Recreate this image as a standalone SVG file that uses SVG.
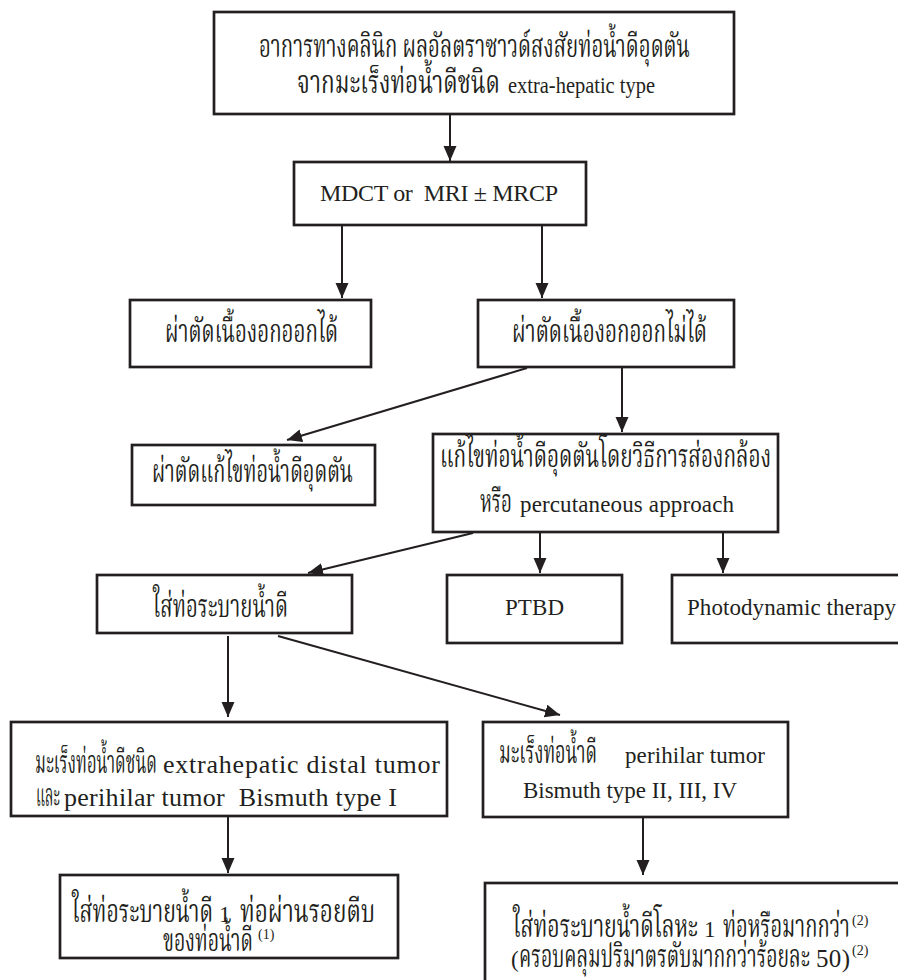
<svg xmlns="http://www.w3.org/2000/svg" width="898" height="980" viewBox="0 0 898 980">
<style>
.box{fill:#fff;stroke:#231f20;stroke-width:2.7}
.t{font-family:'Liberation Serif','Times New Roman','Noto Serif Thai','Noto Sans Thai','Loma',serif;font-size:23px;fill:#231f20}
.th{font-size:32px}
.sup{font-size:14px}
.c{stroke:#231f20;stroke-width:2;fill:none;marker-end:url(#ah)}
</style>
<defs>
<marker id="ah" markerUnits="userSpaceOnUse" markerWidth="16" markerHeight="14" refX="15" refY="6.5" orient="auto">
<path d="M0,0 L15,6.5 L0,13 Z" fill="#231f20"/>
</marker>
</defs>
<rect width="898" height="980" fill="#fff"/>
<g id="connectors">
<line class="c" x1="450" y1="114" x2="450" y2="161"/>
<line class="c" x1="342" y1="225" x2="342" y2="298"/>
<line class="c" x1="542" y1="225" x2="542" y2="298"/>
<line class="c" x1="527" y1="368" x2="287" y2="440"/>
<line class="c" x1="622" y1="367" x2="622" y2="432"/>
<line class="c" x1="473" y1="533" x2="308" y2="573"/>
<line class="c" x1="540" y1="532" x2="540" y2="573"/>
<line class="c" x1="723" y1="532" x2="723" y2="573"/>
<line class="c" x1="228" y1="636" x2="228" y2="717"/>
<line class="c" x1="278" y1="636" x2="560" y2="715"/>
<line class="c" x1="228" y1="816" x2="228" y2="873"/>
<line class="c" x1="643" y1="817" x2="643" y2="875"/>
</g>
<g id="n1">
<rect class="box" x="214" y="12" width="520" height="102"/>
<text class="t th" x="259" y="57" textLength="431" lengthAdjust="spacingAndGlyphs">อาการทางคลินิก ผลอัลตราซาวด์สงสัยท่อน้ำดีอุดตัน</text>
<text class="t th" x="297" y="93" textLength="203" lengthAdjust="spacingAndGlyphs">จากมะเร็งท่อน้ำดีชนิด</text>
<text class="t" x="508" y="93" textLength="147" lengthAdjust="spacingAndGlyphs">extra-hepatic type</text>
</g>
<g id="n2">
<rect class="box" x="294" y="162" width="292" height="63"/>
<text class="t" x="320" y="201" style="font-size:24px" textLength="238">MDCT or &#160;MRI ± MRCP</text>
</g>
<g id="n3">
<rect class="box" x="130" y="300" width="241" height="67"/>
<text class="t th" x="165" y="342" textLength="173" lengthAdjust="spacingAndGlyphs">ผ่าตัดเนื้องอกออกได้</text>
</g>
<g id="n4">
<rect class="box" x="478" y="300" width="256" height="67"/>
<text class="t th" x="512" y="342" textLength="195" lengthAdjust="spacingAndGlyphs">ผ่าตัดเนื้องอกออกไม่ได้</text>
</g>
<g id="n5">
<rect class="box" x="132" y="445" width="243" height="60"/>
<text class="t th" x="152" y="482" textLength="201" lengthAdjust="spacingAndGlyphs">ผ่าตัดแก้ไขท่อน้ำดีอุดตัน</text>
</g>
<g id="n6">
<rect class="box" x="433" y="434" width="345" height="98"/>
<text class="t th" x="440" y="467" textLength="331" lengthAdjust="spacingAndGlyphs">แก้ไขท่อน้ำดีอุดตันโดยวิธีการส่องกล้อง</text>
<text class="t th" x="480" y="512" textLength="32" lengthAdjust="spacingAndGlyphs">หรือ</text>
<text class="t" x="520" y="512" textLength="214">percutaneous approach</text>
</g>
<g id="n7">
<rect class="box" x="97" y="575" width="255" height="58"/>
<text class="t th" x="153" y="617" textLength="135" lengthAdjust="spacingAndGlyphs">ใส่ท่อระบายน้ำดี</text>
</g>
<g id="n8">
<rect class="box" x="447" y="575" width="175" height="68"/>
<text class="t" x="505" y="615" textLength="59">PTBD</text>
</g>
<g id="n9">
<rect class="box" x="672" y="575" width="240" height="68"/>
<text class="t" x="687" y="615" textLength="209">Photodynamic therapy</text>
</g>
<g id="n10">
<rect class="box" x="11" y="722" width="436" height="94"/>
<text class="t th" x="35" y="773" textLength="122" lengthAdjust="spacingAndGlyphs">มะเร็งท่อน้ำดีชนิด</text>
<text class="t" x="163" y="773" style="font-size:26px" textLength="277">extrahepatic distal tumor</text>
<text class="t th" x="36" y="806" textLength="24" lengthAdjust="spacingAndGlyphs">และ</text>
<text class="t" x="64" y="806" style="font-size:26px" textLength="333">perihilar tumor &#160;Bismuth type I</text>
</g>
<g id="n11">
<rect class="box" x="483" y="722" width="305" height="95"/>
<text class="t th" x="499" y="763" textLength="98" lengthAdjust="spacingAndGlyphs">มะเร็งท่อน้ำดี</text>
<text class="t" x="625" y="763" textLength="140">perihilar tumor</text>
<text class="t" x="523" y="798" textLength="214">Bismuth type II, III, IV</text>
</g>
<g id="n12">
<rect class="box" x="60" y="875" width="338" height="83"/>
<text class="t th" x="72" y="922" textLength="141" lengthAdjust="spacingAndGlyphs">ใส่ท่อระบายน้ำดี</text>
<text class="t" x="219" y="922">1</text>
<text class="t th" x="240" y="922" textLength="135" lengthAdjust="spacingAndGlyphs">ท่อผ่านรอยตีบ</text>
<text class="t th" x="163" y="951" textLength="90" lengthAdjust="spacingAndGlyphs">ของท่อน้ำดี</text>
<text class="t sup" x="258" y="939">(1)</text>
</g>
<g id="n13">
<rect class="box" x="485" y="883" width="430" height="110"/>
<text class="t th" x="513" y="937" textLength="185" lengthAdjust="spacingAndGlyphs">ใส่ท่อระบายน้ำดีโลหะ</text>
<text class="t" x="704" y="937">1</text>
<text class="t th" x="723" y="937" textLength="127" lengthAdjust="spacingAndGlyphs">ท่อหรือมากกว่า</text>
<text class="t sup" x="852" y="925">(2)</text>
<text class="t" x="511" y="967">(</text>
<text class="t th" x="519" y="967" textLength="291" lengthAdjust="spacingAndGlyphs">ครอบคลุมปริมาตรตับมากกว่าร้อยละ</text>
<text class="t" x="816" y="967" style="font-size:25px" textLength="34">50)</text>
<text class="t sup" x="852" y="955">(2)</text>
</g>
</svg>
